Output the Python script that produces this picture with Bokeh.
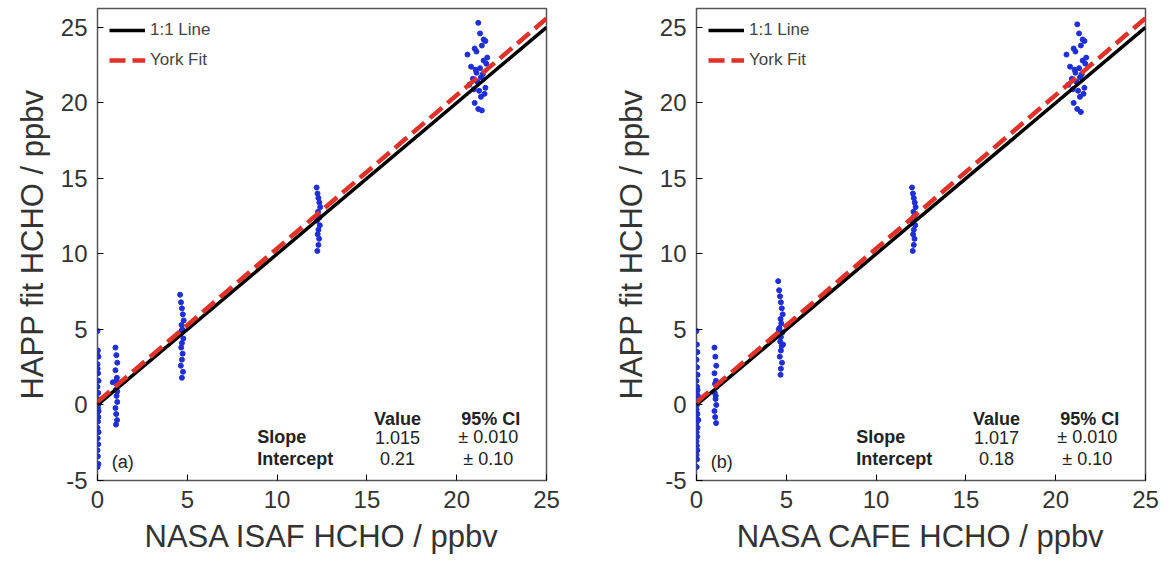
from bokeh.plotting import figure
from bokeh.layouts import row
from bokeh.models import Range1d, FixedTicker, Legend, LegendItem, CustomJSTickFormatter
from bokeh.core.properties import value
from bokeh.embed import file_html
from bokeh.resources import INLINE

# panel (a): NASA ISAF vs HAPP
a_x = ([0.0, 0.02, 0.05, 0.0, 0.03, 0.06, 0.0, 0.04, 0.01, 0.07, 0.02, 0.0, 0.05, 0.03, 0.0, 0.06, 0.01, 0.04, 0.0, 0.02, 0.05, 0.0, 0.03, 0.01, 0.06, 0.0]
       + [1.0, 1.05, 1.1, 1.0, 1.08, 1.12, 1.02, 1.06, 1.1, 1.0, 1.04, 1.09, 1.03, 1.07, 0.85, 1.1]
       + [4.6, 4.65, 4.7, 4.75, 4.8, 4.68, 4.72, 4.62, 4.78, 4.7, 4.66, 4.74, 4.7, 4.64, 4.76, 4.7, 4.68]
       + [12.2, 12.25, 12.3, 12.35, 12.4, 12.28, 12.32, 12.22, 12.38, 12.3, 12.26, 12.34, 12.3, 12.24, 12.36]
       + [20.6, 20.8, 21.0, 21.1, 21.2, 21.3, 21.4, 21.5, 21.6, 21.7, 20.9, 21.05, 21.15, 21.25, 21.35, 21.45, 21.55, 21.65, 20.7, 21.0, 21.2, 21.4, 21.6, 21.3, 21.1, 21.5, 20.95, 21.35])
a_y = ([4.9, 3.6, 3.2, 2.7, 2.1, 1.6, 1.2, 0.8, 0.4, 0.1, -0.2, -0.5, -0.8, -1.1, -1.5, -1.8, -2.2, -2.6, -3.0, -3.4, -3.9, -4.1, 0.0, 2.4, -0.4, 3.3]
       + [3.8, 3.3, 2.8, 2.3, 1.8, 1.4, 1.0, 0.6, 0.2, -0.2, -0.6, -1.0, -1.3, 1.6, 1.5, 0.9]
       + [7.3, 6.8, 6.4, 6.0, 5.6, 5.3, 5.0, 4.7, 4.4, 4.1, 3.8, 3.4, 3.0, 2.6, 2.2, 1.8, 4.9]
       + [14.4, 14.0, 13.7, 13.4, 13.1, 12.8, 12.5, 12.2, 11.9, 11.6, 11.3, 11.0, 10.6, 10.2, 12.4]
       + [23.2, 22.4, 23.6, 22.0, 25.3, 24.6, 23.8, 22.8, 24.1, 23.0, 21.6, 22.2, 21.4, 20.8, 20.4, 21.9, 20.6, 22.6, 21.2, 20.0, 19.6, 19.5, 21.0, 22.3, 23.4, 24.2, 20.9, 21.7])

# panel (b): NASA CAFE vs HAPP
b_x = ([0.0, 0.02, 0.05, 0.0, 0.03, 0.06, 0.0, 0.04, 0.01, 0.07, 0.02, 0.0, 0.05, 0.03, 0.0, 0.06, 0.01, 0.04, 0.0, 0.02, 0.05, 0.0, 0.03, 0.01, 0.06, 0.0, 0.08, 0.1]
       + [1.0, 1.05, 1.1, 1.0, 1.08, 1.12, 1.02, 1.06, 1.1, 1.0, 1.04, 1.09, 1.03, 1.07]
       + [4.55, 4.6, 4.65, 4.7, 4.75, 4.8, 4.68, 4.72, 4.62, 4.78, 4.7, 4.66, 4.74, 4.7, 4.64, 4.76, 4.7, 4.68, 4.58, 4.82]
       + [12.0, 12.05, 12.1, 12.15, 12.2, 12.08, 12.12, 12.02, 12.18, 12.1, 12.06, 12.14, 12.1, 12.04, 12.16]
       + [20.6, 20.8, 21.0, 21.1, 21.2, 21.3, 21.4, 21.5, 21.6, 21.7, 20.9, 21.05, 21.15, 21.25, 21.35, 21.45, 21.55, 21.65, 20.7, 21.0, 21.2, 21.4, 21.6, 21.3, 21.1, 21.5, 20.95, 21.35])
b_y = ([4.9, 4.0, 3.5, 3.0, 2.5, 2.0, 1.6, 1.2, 0.8, 0.4, 0.0, -0.3, -0.6, -0.9, -1.2, -1.5, -1.8, -2.1, -2.4, -2.7, -3.0, -3.3, -3.6, -4.1, 1.0, -0.5, 0.6, -1.0]
       + [3.8, 3.2, 2.6, 2.1, 1.6, 1.2, 0.8, 0.4, 0.0, -0.4, -0.8, -1.2, 1.4, 0.6]
       + [8.2, 7.6, 7.2, 6.8, 6.4, 6.0, 5.7, 5.4, 5.1, 4.8, 4.5, 4.2, 3.9, 3.6, 3.2, 2.8, 2.4, 2.0, 5.0, 4.0]
       + [14.4, 14.0, 13.7, 13.4, 13.1, 12.8, 12.5, 12.2, 11.9, 11.6, 11.3, 11.0, 10.6, 10.2, 12.4]
       + [23.2, 22.4, 23.6, 22.0, 25.2, 24.6, 23.8, 22.8, 24.1, 23.0, 21.6, 22.2, 21.4, 20.8, 20.4, 21.9, 20.6, 22.6, 21.2, 20.0, 19.6, 19.4, 21.0, 22.3, 23.4, 24.2, 20.9, 21.7])

line_x = [0, 25]
panels = [
    dict(x=a_x, y=a_y, slope=1.015, icpt=0.21, slope_s="1.015", icpt_s="0.21",
         xlabel="NASA ISAF HCHO / ppbv", tag="(a)", bl=97, br=53),
    dict(x=b_x, y=b_y, slope=1.017, icpt=0.18, slope_s="1.017", icpt_s="0.18",
         xlabel="NASA CAFE HCHO / ppbv", tag="(b)", bl=97, br=15),
]

FONT = "Liberation Sans"
figs = []
for d in panels:
    p = figure(frame_width=449, frame_height=472, output_backend="svg", toolbar_location=None,
               x_range=Range1d(0, 25), y_range=Range1d(-5, 26.25),
               min_border_left=d["bl"], min_border_right=d["br"], min_border_top=8,
               min_border_bottom=76)
    p.grid.visible = False
    p.outline_line_color = "#555555"
    p.outline_line_width = 1.5
    for ax in (p.xaxis[0], p.yaxis[0]):
        ax.ticker = FixedTicker(ticks=[-5, 0, 5, 10, 15, 20, 25])
        ax.formatter = CustomJSTickFormatter(code="return tick.toString();")
        ax.major_tick_in = 6
        ax.major_tick_out = 0
        ax.minor_tick_line_color = None
        ax.axis_line_color = None
        ax.major_label_standoff = 10
        ax.major_label_text_font = FONT
        ax.major_label_text_font_size = "24px"
        ax.major_label_text_color = "#333333"
        ax.axis_label_text_font = FONT
        ax.axis_label_text_font_size = "31px"
        ax.axis_label_text_font_style = "normal"
        ax.axis_label_text_color = "#333333"
        ax.axis_label_standoff = 8
    p.xaxis.axis_label = d["xlabel"]
    p.yaxis.axis_label = "HAPP fit HCHO / ppbv"

    p.scatter(d["x"], d["y"], size=5, color="#1f2fd8")
    r1 = p.line(line_x, line_x, line_color="black", line_width=3.5)
    yfit = [d["slope"] * v + d["icpt"] for v in line_x]
    r2 = p.line(line_x, yfit, line_color="#e03228", line_width=4.5, line_dash="16 7")
    leg = Legend(items=[LegendItem(label="1:1 Line", renderers=[r1]),
                        LegendItem(label="York Fit", renderers=[r2])],
                 location="top_left", border_line_alpha=0, background_fill_alpha=0,
                 label_text_font=FONT, label_text_font_size="17px", glyph_width=36,
                 spacing=10, margin=2)
    p.add_layout(leg)

    tf = dict(text_font=value(FONT), text_font_size="18px", text_baseline="middle", text_color="#222222")
    p.text([16.7, 21.9], [-0.9, -0.9], text=["Value", "95% CI"], text_align="center",
           text_font_style="bold", **tf)
    p.text([8.9, 8.9], [-2.15, -3.55], text=["Slope", "Intercept"], text_align="left",
           text_font_style="bold", **tf)
    p.text([16.7, 16.7], [-2.15, -3.55], text=[d["slope_s"], d["icpt_s"]], text_align="center", **tf)
    p.text([21.9, 21.9], [-2.15, -3.55], text=["\u00b1  0.010", "\u00b1  0.10"], text_align="center", **tf)
    p.text([0.8], [-3.8], text=[d["tag"]], text_align="left", **tf)
    figs.append(p)

layout = row(*figs)
open("out.html", "w").write(file_html(layout, INLINE))
